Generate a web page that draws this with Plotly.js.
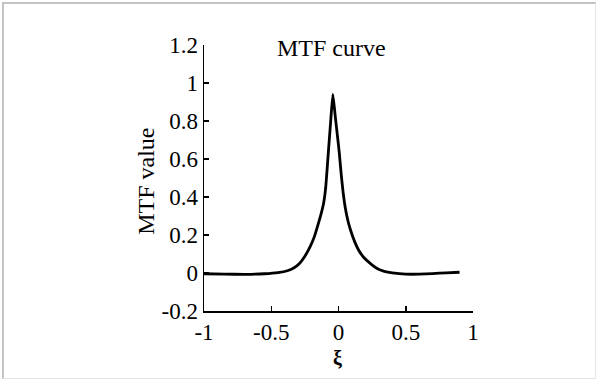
<!DOCTYPE html>
<html>
<head>
<meta charset="utf-8">
<script src="https://cdn.plot.ly/plotly-3.0.1.min.js"></script>
<style>
  html, body { margin: 0; padding: 0; background: #fff; }
  #wrap { position: relative; width: 598px; height: 381px; }
  #chart { width: 598px; height: 381px; }
  #frame { position: absolute; left: 2px; top: 2px; width: 594px; height: 377px;
           border-left: 2px solid #c4c4c4; border-top: 2px solid #c4c4c4;
           border-right: 1px solid #e4e4e4; border-bottom: 1px solid #e4e4e4;
           box-sizing: border-box; pointer-events: none; }
</style>
</head>
<body>
<div id="wrap">
  <div id="chart"></div>
  <div id="frame"></div>
</div>
<script>
// spatial frequency (xi) and MTF value
var xi  = [-1, -0.85, -0.7, -0.55, -0.45, -0.38, -0.33, -0.29, -0.25, -0.21, -0.18, -0.15, -0.13, -0.11, -0.095,
           -0.075, -0.058, -0.042, -0.025, -0.01, 0.005, 0.02, 0.035, 0.05, 0.07, 0.09, 0.12, 0.15, 0.19, 0.24,
           0.29, 0.34, 0.4, 0.5, 0.6, 0.7, 0.8, 0.9];
var mtf = [-0.004, -0.006, -0.007, -0.004, 0.002, 0.012, 0.028, 0.05, 0.088, 0.14, 0.19, 0.26, 0.31, 0.37, 0.45,
           0.64, 0.80, 0.94, 0.83, 0.735, 0.639, 0.52, 0.42, 0.345, 0.275, 0.225, 0.165, 0.12, 0.08, 0.048,
           0.022, 0.009, 0.001, -0.006, -0.006, -0.003, 0.001, 0.004];

var xTicks = [-1, -0.5, 0, 0.5, 1];
var xTickText = ['-1', '-0.5', '0', '0.5', '1'];
var yTicks = [-0.2, 0, 0.2, 0.4, 0.6, 0.8, 1, 1.2];
var yTickText = ['-0.2', '0', '0.2', '0.4', '0.6', '0.8', '1', '1.2'];

var titleText = 'MTF curve';
var yTitleText = 'MTF value';
var xTitleText = 'ξ';

var serif = '"Liberation Serif", "Times New Roman", serif';

var trace = {
  x: xi, y: mtf, type: 'scatter', mode: 'lines',
  line: { color: '#000', width: 2.8, shape: 'spline', smoothing: 0.4 },
  hoverinfo: 'skip', showlegend: false
};

var layout = {
  width: 598, height: 381,
  margin: { l: 204, r: 125, t: 45, b: 70, pad: 0 },
  paper_bgcolor: '#fff', plot_bgcolor: '#fff',
  font: { family: serif, color: '#000', size: 23 },
  showlegend: false,
  xaxis: {
    range: [-1, 1], tickvals: xTicks, ticktext: xTickText,
    showline: true, linecolor: '#000', linewidth: 1.5,
    ticks: 'inside', ticklen: 5, tickwidth: 1.5, tickcolor: '#000',
    showgrid: false, zeroline: false, fixedrange: true,
    tickfont: { family: serif, size: 23, color: '#000' }
  },
  yaxis: {
    range: [-0.2, 1.2], tickvals: yTicks, ticktext: yTickText,
    showline: true, linecolor: '#000', linewidth: 1.5,
    ticks: 'inside', ticklen: 5, tickwidth: 1.5, tickcolor: '#000',
    showgrid: false, zeroline: false, fixedrange: true,
    tickfont: { family: serif, size: 23, color: '#000' }
  },
  annotations: [
    { text: titleText, xref: 'paper', yref: 'paper', x: 0.475, y: 0.989,
      xanchor: 'center', yanchor: 'middle', showarrow: false,
      font: { family: serif, size: 24, color: '#000' } },
    { text: yTitleText, xref: 'paper', yref: 'paper', x: -0.216, y: 0.489,
      xanchor: 'center', yanchor: 'middle', textangle: -90, showarrow: false,
      font: { family: serif, size: 24, color: '#000' } },
    { text: '<b>' + xTitleText + '</b>', xref: 'paper', yref: 'paper', x: 0.498, y: -0.176,
      xanchor: 'center', yanchor: 'middle', showarrow: false,
      font: { family: serif, size: 20, color: '#000' } }
  ]
};

Plotly.newPlot('chart', [trace], layout, { staticPlot: true, displayModeBar: false });
</script>
</body>
</html>
